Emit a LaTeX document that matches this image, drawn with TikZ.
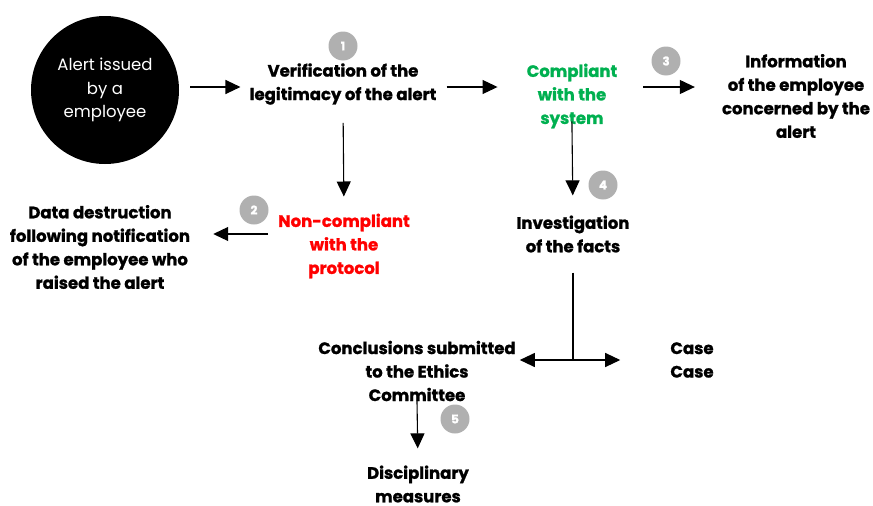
\documentclass[tikz,border=0pt]{standalone}
\usepackage{fontspec}
\setmainfont{Poppins}[BoldFeatures={FakeBold=1.2}]
\usetikzlibrary{arrows.meta,positioning,calc}

\definecolor{okgreen}{RGB}{0,176,80}
\definecolor{badgegray}{RGB}{176,176,176}

\tikzset{
  stage/.style={align=center, inner sep=0pt,
    font=\bfseries\fontsize{16.5}{23.5}\selectfont},
  badge/.style={circle, fill=badgegray, text=white, inner sep=0pt,
    minimum size=29pt, font=\bfseries\fontsize{12}{12}\selectfont},
  arr/.style={-{Triangle[length=15pt,width=14pt]}, line width=1.1pt},
}

\begin{document}
\begin{tikzpicture}[x=1pt,y=-1pt]
    \useasboundingbox (0,0) rectangle (873,506);

    % Start
    \node[circle, fill=black, text=white, minimum size=148pt, align=center,
      font=\fontsize{16.5}{23.5}\selectfont] (alert) at (105,90) {Alert issued\\by a\\employee};

    % First check
    \node[stage] (verif) at (343,84) {Verification of the\\legitimacy of the alert};
    \node[stage, text=okgreen] (comp) at (572,96) {Compliant\\with the\\system};
    \node[stage] (inform) at (796,96) {Information\\of the employee\\concerned by the\\alert};
    \node[stage, text=red] (noncomp) at (344,246) {Non-compliant\\with the\\protocol};
    \node[stage] (destroy) at (100,247) {Data destruction\\following notification\\of the employee who\\raised the alert};

    % Investigation
    \node[stage] (invest) at (573,234) {Investigation\\of the facts};
    \node[stage] (concl) at (417,371) {Conclusions submitted\\to the Ethics\\Committee};
    \node[stage] (case) at (692,360) {Case\\Case};
    \node[stage] (discip) at (418,484) {Disciplinary\\measures};
    \coordinate (split) at (invest.south |- case.center);

    % Steps
    \node[badge] (b1) at (343,46) {1};
    \node[badge] (b2) at (254,210) {2};
    \node[badge] (b3) at (666,61) {3};
    \node[badge] (b4) at (603,185) {4};
    \node[badge] (b5) at (455,419) {5};

    % Connections
    \draw[arr, shorten <=11pt, shorten >=9pt] ([yshift=3pt]alert.east) -- ([yshift=3pt]alert.east -| verif.west);
    \draw[arr, shorten <=10pt, shorten >=29pt] ([yshift=-3pt]verif.east) -- ([yshift=-3pt]verif.east -| comp.west);
    \draw[arr, shorten <=26pt, shorten >=27pt] ([yshift=9pt]comp.east) -- ([yshift=9pt]comp.east -| inform.west);
    \draw[arr, shorten <=18pt, shorten >=17pt] (verif.south) -- (noncomp.north);
    \draw[arr, shorten <=10pt, shorten >=23pt] ([yshift=12pt]noncomp.west) -- ([yshift=12pt]noncomp.west -| destroy.east);
    \draw[arr, shorten <=-7pt, shorten >=20pt] (comp.south) -- (invest.north);
    \draw[line width=1.1pt, shorten <=20pt] (invest.south) -- (split);
    \draw[arr, shorten >=4pt] (split) -- (split -| concl.east);
    \draw[arr, shorten >=50pt] (split) -- (split -| case.west);
    \draw[arr, shorten <=-10pt, shorten >=17pt] (concl.south) -- (discip.north);
\end{tikzpicture}
\end{document}
